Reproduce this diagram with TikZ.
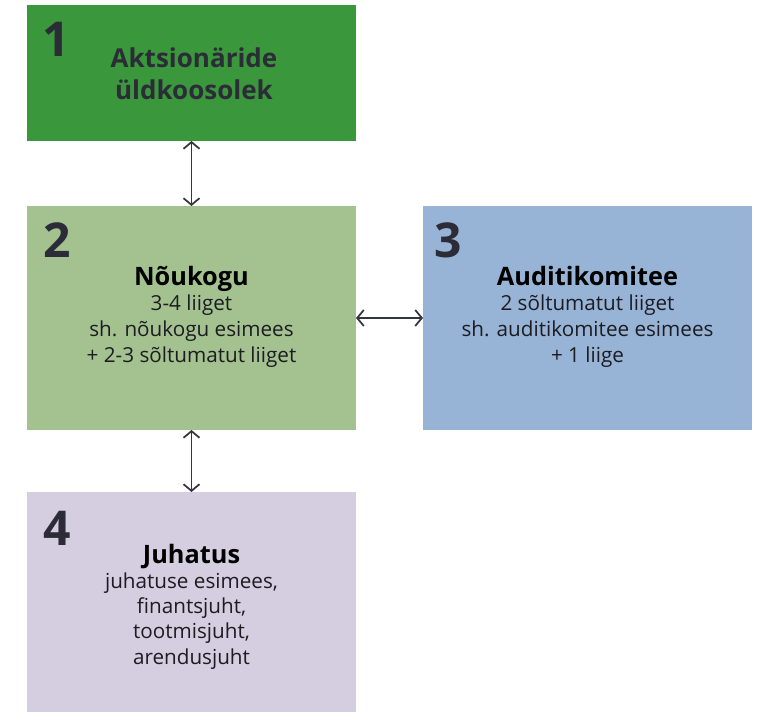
\documentclass[tikz,border=0pt]{standalone}
\usepackage{fontspec}
\setmainfont{Open Sans}
\usetikzlibrary{arrows.meta}
\definecolor{cA}{HTML}{3A973B}
\definecolor{cB}{HTML}{A3C290}
\definecolor{cC}{HTML}{97B4D6}
\definecolor{cD}{HTML}{D5CDE0}
\definecolor{ink}{HTML}{2B2C37}
\definecolor{body}{HTML}{1C1C22}
\definecolor{arr}{HTML}{33363F}
\tikzset{
  box/.style={draw=none, minimum width=246.75pt, inner sep=0pt, outer sep=0pt},
  num/.style={anchor=base west, inner sep=0pt, text=ink, font=\fontsize{36}{36}\selectfont\bfseries},
  ttl/.style={anchor=base, inner sep=0pt, text=black, font=\fontsize{19}{19}\selectfont\bfseries},
  ttlA/.style={anchor=base, inner sep=0pt, text=ink, font=\fontsize{19.5}{19.5}\selectfont\bfseries},
  txt/.style={anchor=base, inner sep=0pt, text=body, font=\fontsize{15.5}{15.5}\selectfont},
  link/.style={draw=arr, line width=1.3pt, {Straight Barb[length=5pt,width=12pt]}-{Straight Barb[length=5pt,width=12pt]}}
}
\begin{document}
\begin{tikzpicture}[x=0.75pt,y=-0.75pt]
\useasboundingbox (0,0) rectangle (763,712);
\fill[white] (0,0) rectangle (763,712);
% boxes
\node[box, fill=cA, minimum height=102pt] (b1) at (191.5,73) {};
\node[box, fill=cB, minimum height=168pt] (b2) at (191.5,318) {};
\node[box, fill=cC, minimum height=168pt] (b3) at (587.5,318) {};
\node[box, fill=cD, minimum height=165pt] (b4) at (191.5,602) {};
% box 1
\node[num] (n1) at (42,57) {1};
\node[ttlA] (t1a) at (194,68) {Aktsionäride};
\node[ttlA] (t1b) at (194,100) {üldkoosolek};
% box 2
\node[num] (n2) at (43,258) {2};
\node[ttl] (t2) at (191.5,286) {Nõukogu};
\node[txt] (t2a) at (191.5,311) {3-4 liiget};
\node[txt] (t2b) at (191.5,337) {sh. nõukogu esimees};
\node[txt] (t2c) at (191.5,363) {+ 2-3 sõltumatut liiget};
% box 3
\node[num] (n3) at (434,258) {3};
\node[ttl] (t3) at (587.5,286) {Auditikomitee};
\node[txt] (t3a) at (587.5,311) {2 sõltumatut liiget};
\node[txt] (t3b) at (587.5,337) {sh. auditikomitee esimees};
\node[txt] (t3c) at (587.5,363) {+ 1 liige};
% box 4
\node[num] (n4) at (43,545) {4};
\node[ttl] (t4) at (191.5,563) {Juhatus};
\node[txt] (t4a) at (191.5,588) {juhatuse esimees,};
\node[txt] (t4b) at (191.5,613) {finantsjuht,};
\node[txt] (t4c) at (191.5,638) {tootmisjuht,};
\node[txt] (t4d) at (191.5,664) {arendusjuht};
% connectors
\draw[link] (b1.south) -- (b2.north);
\draw[link] (b2.east) -- (b3.west);
\draw[link] (b2.south) -- (b4.north);
\end{tikzpicture}
\end{document}
